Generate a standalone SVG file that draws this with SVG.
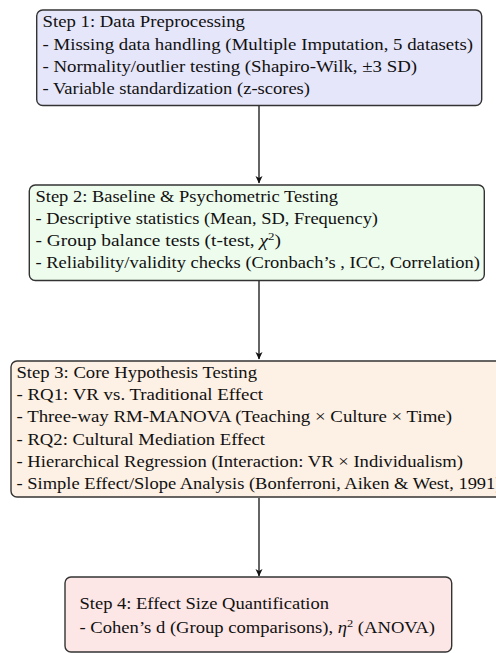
<svg xmlns="http://www.w3.org/2000/svg" width="496" height="653" viewBox="0 0 496 653">
<style>
.box{stroke:#333;stroke-width:1.4}
.t{font-family:'Liberation Serif','Times New Roman',serif;font-size:16.5px;fill:#111}
.m{font-style:italic}
.edge{stroke:#111;stroke-width:1.3;fill:none}
</style>
<defs>
<marker id="ah" markerWidth="8" markerHeight="8" refX="7" refY="4" orient="auto" markerUnits="userSpaceOnUse">
<path d="M0,0.5 L7.5,4 L0,7.5 L2,4 Z" fill="#111"/>
</marker>
</defs>
<rect width="496" height="653" fill="#fff"/>
<g id="connectors">
<line class="edge" x1="259" y1="106" x2="259" y2="183" marker-end="url(#ah)"/>
<line class="edge" x1="259" y1="281" x2="259" y2="359" marker-end="url(#ah)"/>
<line class="edge" x1="259" y1="498" x2="259" y2="576" marker-end="url(#ah)"/>
</g>
<g id="step1">
<rect class="box" x="36.7" y="10" width="445" height="95.5" rx="6" fill="#e6e6fa"/>
<text class="t" x="42.5" y="27" textLength="202.5" lengthAdjust="spacingAndGlyphs">Step 1: Data Preprocessing</text>
<text class="t" x="42.5" y="50" textLength="430.5" lengthAdjust="spacingAndGlyphs">- Missing data handling (Multiple Imputation, 5 datasets)</text>
<text class="t" x="42.5" y="72" textLength="374.5" lengthAdjust="spacingAndGlyphs">- Normality/outlier testing (Shapiro-Wilk, ±3 SD)</text>
<text class="t" x="42.5" y="94" textLength="267.5" lengthAdjust="spacingAndGlyphs">- Variable standardization (z-scores)</text>
</g>
<g id="step2">
<rect class="box" x="29.3" y="185" width="455" height="95.5" rx="6" fill="#eefcee"/>
<text class="t" x="35.5" y="202" textLength="302.5" lengthAdjust="spacingAndGlyphs">Step 2: Baseline &amp; Psychometric Testing</text>
<text class="t" x="35.5" y="224" textLength="342.5" lengthAdjust="spacingAndGlyphs">- Descriptive statistics (Mean, SD, Frequency)</text>
<text class="t" x="35.5" y="246" textLength="245.5" lengthAdjust="spacingAndGlyphs">- Group balance tests (t-test, <tspan class="m">χ</tspan><tspan font-size="11" dy="-6">2</tspan><tspan dy="6">)</tspan></text>
<text class="t" x="35.5" y="267.5" textLength="444.5" lengthAdjust="spacingAndGlyphs">- Reliability/validity checks (Cronbach’s , ICC, Correlation)</text>
</g>
<g id="step3">
<rect class="box" x="11" y="361" width="500" height="136" rx="6" fill="#fdf0e4"/>
<text class="t" x="16.5" y="377.5" textLength="240.5" lengthAdjust="spacingAndGlyphs">Step 3: Core Hypothesis Testing</text>
<text class="t" x="16.5" y="400" textLength="246.5" lengthAdjust="spacingAndGlyphs">- RQ1: VR vs. Traditional Effect</text>
<text class="t" x="16.5" y="422" textLength="435.5" lengthAdjust="spacingAndGlyphs">- Three-way RM-MANOVA (Teaching × Culture × Time)</text>
<text class="t" x="16.5" y="444.5" textLength="248.5" lengthAdjust="spacingAndGlyphs">- RQ2: Cultural Mediation Effect</text>
<text class="t" x="16.5" y="466.5" textLength="446.5" lengthAdjust="spacingAndGlyphs">- Hierarchical Regression (Interaction: VR × Individualism)</text>
<text class="t" x="16.5" y="489" textLength="485" lengthAdjust="spacingAndGlyphs">- Simple Effect/Slope Analysis (Bonferroni, Aiken &amp; West, 1991)</text>
</g>
<g id="step4">
<rect class="box" x="65" y="577" width="386.7" height="75" rx="6" fill="#fde6e6"/>
<text class="t" x="79.5" y="609" textLength="249.5" lengthAdjust="spacingAndGlyphs">Step 4: Effect Size Quantification</text>
<text class="t" x="79.5" y="633" textLength="355.5" lengthAdjust="spacingAndGlyphs">- Cohen’s d (Group comparisons), <tspan class="m">η</tspan><tspan font-size="11" dy="-6">2</tspan><tspan dy="6"> (ANOVA)</tspan></text>
</g>
</svg>
